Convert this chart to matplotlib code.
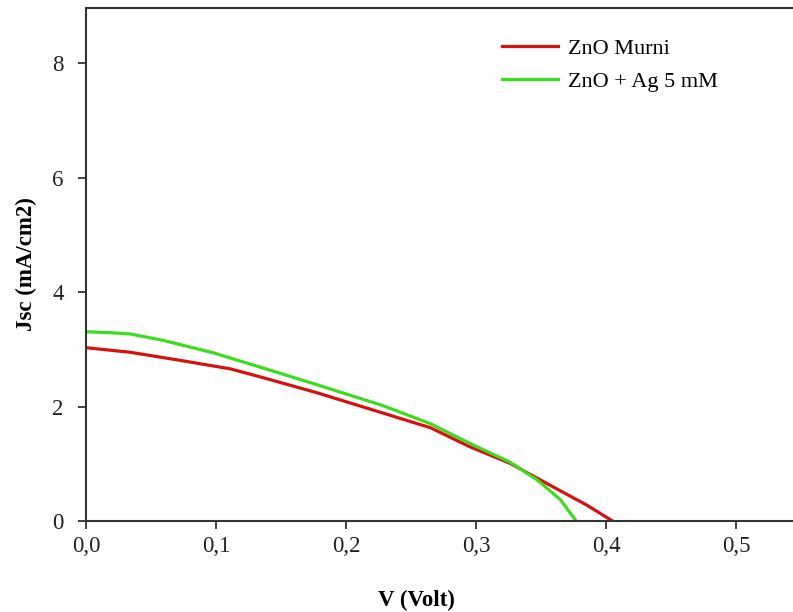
import numpy as np
from matplotlib import pyplot as plt

# values
v_murni = [0.0, 0.034, 0.072, 0.111, 0.134, 0.178, 0.228, 0.265, 0.295, 0.326, 0.359, 0.385, 0.405]
j_murni = [3.03, 2.95, 2.81, 2.66, 2.52, 2.24, 1.89, 1.63, 1.30, 1.01, 0.60, 0.28, 0.0]

v_ag = [0.0, 0.020, 0.034, 0.059, 0.098, 0.134, 0.178, 0.228, 0.265, 0.295, 0.326, 0.347, 0.365, 0.377]
j_ag = [3.31, 3.29, 3.27, 3.16, 2.94, 2.69, 2.38, 2.02, 1.70, 1.36, 1.03, 0.72, 0.37, 0.0]

labels = ["ZnO Murni", "ZnO + Ag 5 mM"]
xticks = [0.0, 0.1, 0.2, 0.3, 0.4, 0.5]
yticks = [0, 2, 4, 6, 8]

plt.rcParams["font.family"] = ["Liberation Serif", "DejaVu Serif"]

fig = plt.figure(figsize=(7.93, 6.12), dpi=100)
ax = fig.add_axes([0.1085, 0.1487, 0.8915, 0.8383])

ax.plot(v_murni, j_murni, color="#d81010", lw=2.3, label=labels[0])
ax.plot(v_ag, j_ag, color="#3cdc1e", lw=2.3, label=labels[1])

ax.set_xlim(0, 0.5438)
ax.set_ylim(0, 8.97)
ax.set_xticks(xticks)
ax.set_xticklabels([("%.1f" % t).replace(".", ",") for t in xticks])
ax.set_yticks(yticks)
ax.tick_params(direction="out", length=6, width=1.2, labelsize=16.5, colors="#222222")
ax.tick_params(axis="x", pad=5)
ax.tick_params(axis="y", pad=10)

for s in ["left", "bottom", "top"]:
    ax.spines[s].set_linewidth(1.5)
    ax.spines[s].set_color("#333333")
ax.spines["right"].set_visible(False)

ax.set_xlabel("V (Volt)", fontsize=16.5, fontweight="bold")
ax.set_ylabel("Jsc (mA/cm2)", fontsize=16.5, fontweight="bold", labelpad=11)
ax.xaxis.set_label_coords(0.467, -0.135)

ax.legend(loc="upper left", bbox_to_anchor=(0.619, 0.955), bbox_transform=fig.transFigure,
          frameon=False, fontsize=16, handlelength=2.5, handletextpad=0.45,
          labelspacing=0.56, borderpad=0)

fig.savefig("out.png", dpi=100)
